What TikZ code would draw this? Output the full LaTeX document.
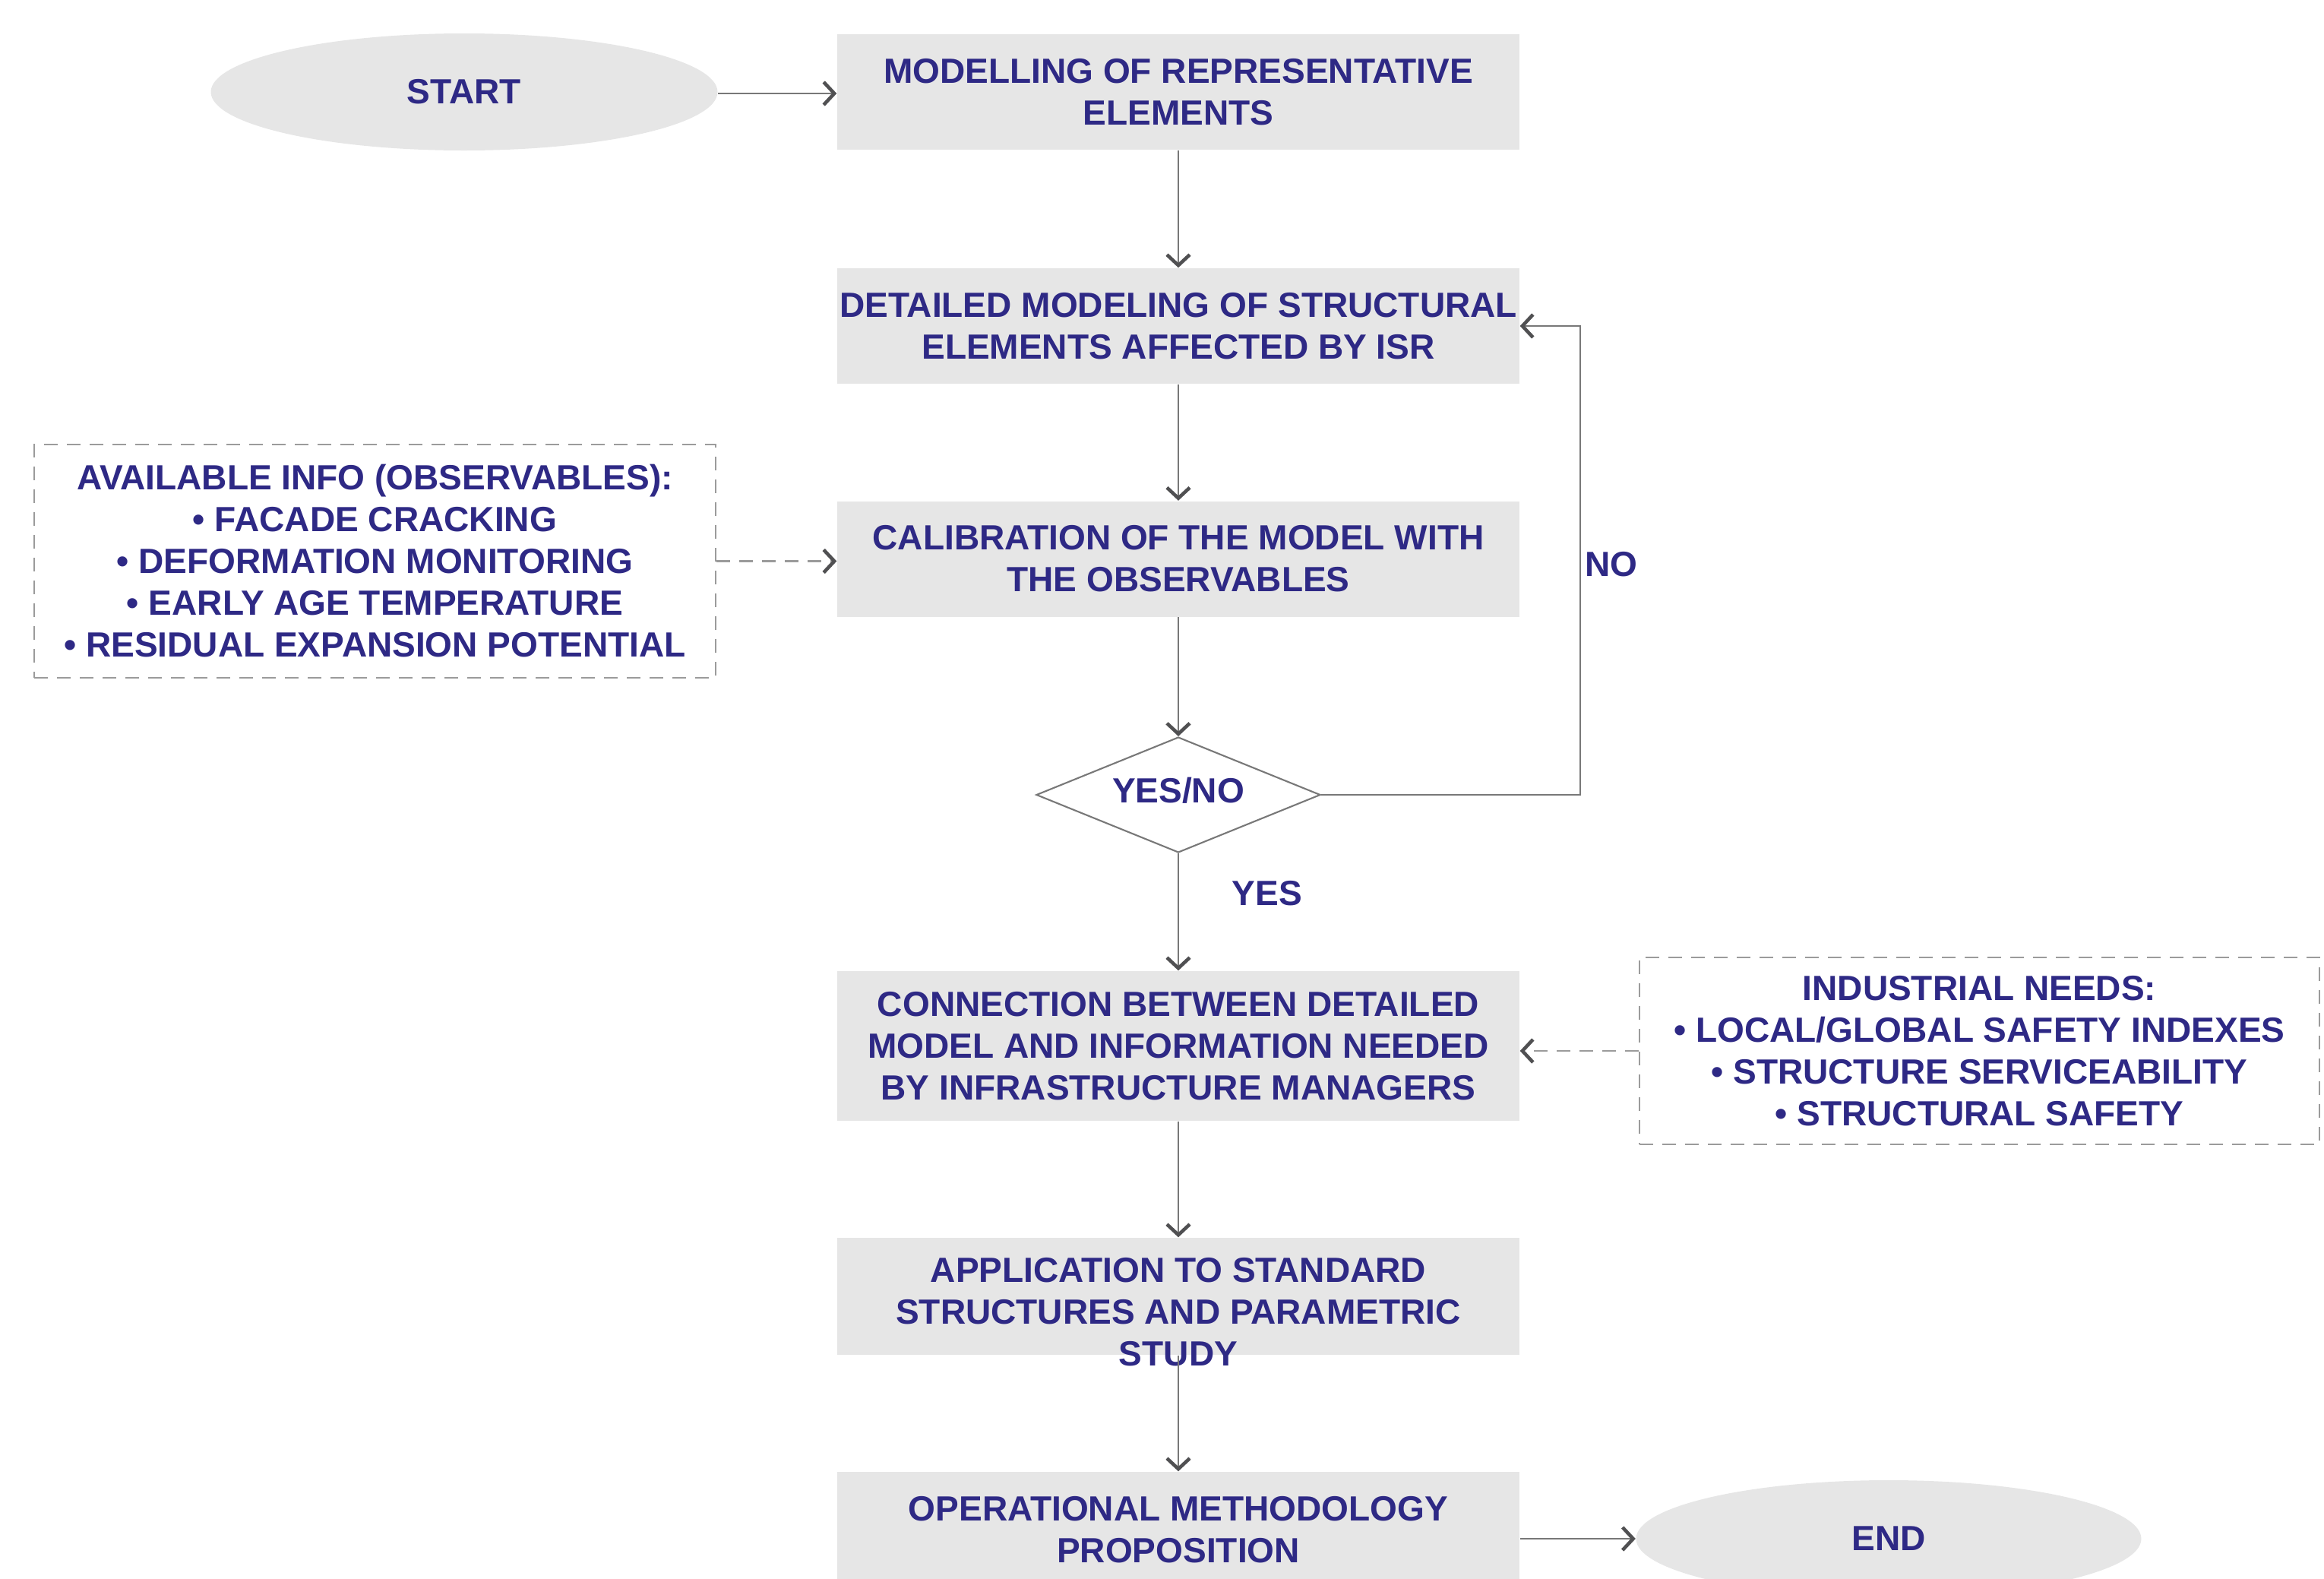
\documentclass[tikz,border=0pt]{standalone}
\usepackage{fontspec}
\setmainfont{Liberation Sans}
\usetikzlibrary{shapes.geometric,arrows.meta}
\definecolor{txt}{RGB}{46,41,133}
\definecolor{boxfill}{RGB}{230,230,230}
\definecolor{linegray}{RGB}{120,120,120}
\definecolor{headgray}{RGB}{80,80,82}
\definecolor{dashgray}{RGB}{155,155,155}
\begin{document}
\begin{tikzpicture}[
  every node/.style={font=\fontsize{13.1}{15.65}\selectfont\bfseries, text=txt, align=center},
  box/.style={rectangle, fill=boxfill, minimum width=8.98cm, minimum height=1.52cm, inner sep=0pt},
  term/.style={ellipse, fill=boxfill, minimum width=6.67cm, minimum height=1.54cm, inner sep=0pt},
  dbox/.style={rectangle, draw=dashgray, dash pattern=on 1.8mm off 1.2mm, line width=0.6pt, inner sep=0pt},
  arr/.style={draw=linegray, line width=0.6pt, -{Straight Barb[length=1.4mm,width=3mm,line width=1.3pt,color=headgray]}},
  darr/.style={arr, draw=dashgray, dash pattern=on 1.8mm off 1.2mm},
  lbl/.style={inner sep=0pt}
]
\useasboundingbox (0,0) rectangle (30.59,-20.78);

\node[term] (start) at (6.11,-1.21) {START};
\node[box] (b1) at (15.51,-1.21) {MODELLING OF REPRESENTATIVE\\ELEMENTS};
\node[box] (b2) at (15.51,-4.29) {DETAILED MODELING OF STRUCTURAL\\ELEMENTS AFFECTED BY ISR};
\node[box] (b3) at (15.51,-7.355) {CALIBRATION OF THE MODEL WITH\\THE OBSERVABLES};
\node[diamond, draw=linegray, line width=0.6pt, minimum width=3.74cm, minimum height=1.52cm, inner sep=0pt] (dia) at (15.51,-10.46) {};
\node[lbl] (diat) at (15.51,-10.40) {YES/NO};
\node[box, minimum height=1.97cm] (b4) at (15.51,-13.765) {CONNECTION BETWEEN DETAILED\\MODEL AND INFORMATION NEEDED\\BY INFRASTRUCTURE MANAGERS};
\node[box, minimum height=1.54cm] (b5) at (15.51,-17.06) {};
\node[lbl] (b5t) at (15.51,-17.27) {APPLICATION TO STANDARD\\STRUCTURES AND PARAMETRIC\\STUDY};
\node[box] (b6) at (15.51,-20.13) {OPERATIONAL METHODOLOGY\\PROPOSITION};
\node[term, minimum width=6.65cm] (end) at (24.86,-20.25) {END};

\node[dbox, minimum width=8.97cm, minimum height=3.07cm] (lbox) at (4.935,-7.385)
  {AVAILABLE INFO (OBSERVABLES):\\• FACADE CRACKING\\• DEFORMATION MONITORING\\• EARLY AGE TEMPERATURE\\• RESIDUAL EXPANSION POTENTIAL};
\node[dbox, minimum width=8.95cm, minimum height=2.46cm] (rbox) at (26.055,-13.83)
  {INDUSTRIAL NEEDS:\\• LOCAL/GLOBAL SAFETY INDEXES\\• STRUCTURE SERVICEABILITY\\• STRUCTURAL SAFETY};

\node[lbl] (no) at (21.21,-7.43) {NO};
\node[lbl] (yes) at (16.68,-11.76) {YES};

\coordinate (fb) at (20.80,-10.46);

\draw[arr] (start.east |- 0,-1.23) -- (b1.west |- 0,-1.23);
\draw[arr] (b1) -- (b2);
\draw[arr] (b2) -- (b3);
\draw[arr] (b3) -- (dia);
\draw[arr] (dia) -- (b4);
\draw[arr] (b4) -- (b5);
\draw[arr] (b5) -- (b6);
\draw[arr] (end.west -| b6.east) -- (end.west);
\draw[arr] (dia.east) -- (fb) |- (b2.east);
\draw[darr] (lbox.east) -- (lbox.east -| b3.west);
\draw[darr] (rbox.west) -- (rbox.west -| b4.east);
\end{tikzpicture}
\end{document}
